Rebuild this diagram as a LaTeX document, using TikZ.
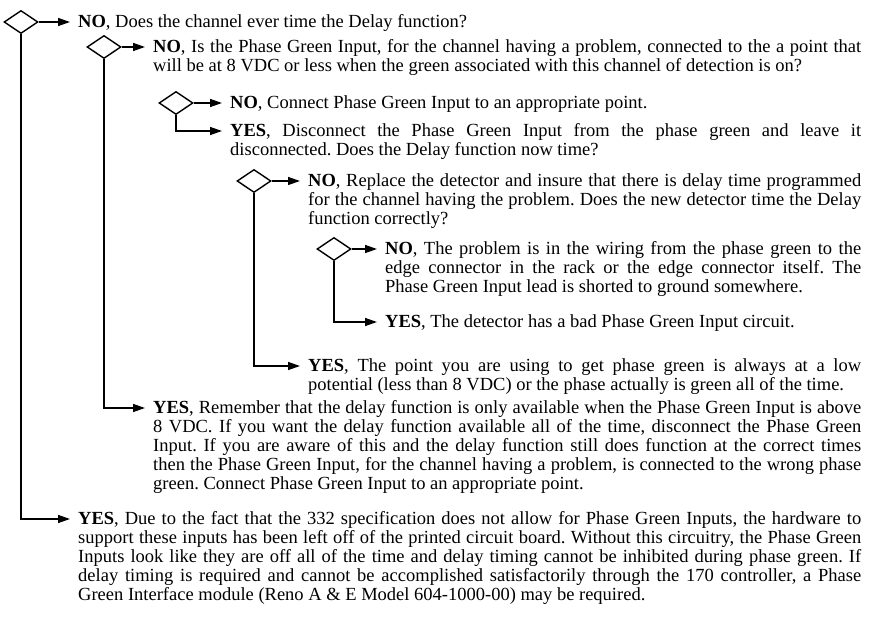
\documentclass[tikz,border=0pt]{standalone}
\usepackage{fontspec}
\setmainfont{Liberation Serif}
\usetikzlibrary{shapes.geometric,arrows.meta}

\newcommand{\replyfont}{\fontsize{18.5pt}{19pt}\selectfont\frenchspacing\hyphenpenalty=10000\tolerance=10000}

\tikzset{
    dec/.style={draw, diamond, line width=1.4pt, minimum width=34pt, minimum height=23pt, inner sep=0pt},
    reply/.style={anchor=base west, yshift=-5.5pt, inner sep=0pt, text width=#1, align=justify, font=\replyfont},
    arr/.style={line width=1.4pt, -{Triangle[length=12pt,width=8pt]}, shorten >=8pt}
}

\begin{document}
\begin{tikzpicture}[x=1pt,y=-1pt]
    \useasboundingbox (0,0) rectangle (873,617);

    % Define the decision diamonds
    \node[dec] (d0) at (21,22) {};
    \node[dec] (d1) at (104,47) {};
    \node[dec] (d2) at (176,103) {};
    \node[dec] (d3) at (254,181) {};
    \node[dec] (d4) at (334,249) {};

    % Answers of the outer question
    \node[reply=783pt] (no0) at (78,22) {\textbf{NO}, Does the channel ever time the Delay function?};
    \node[reply=783pt] (yes0) at (78,519) {\textbf{YES}, Due to the fact that the 332 specification does not allow for Phase Green Inputs, the hardware to\linebreak
        support these inputs has been left off of the printed circuit board. Without this circuitry, the Phase Green\linebreak
        Inputs look like they are off all of the time and delay timing cannot be inhibited during phase green. If\linebreak
        delay timing is required and cannot be accomplished satisfactorily through the 170 controller, a Phase\linebreak
        Green Interface module (Reno A \& E Model 604-1000-00) may be required.};

    % Answers of the second question
    \node[reply=708pt] (no1) at (153,47) {\textbf{NO}, Is the Phase Green Input, for the channel having a problem, connected to the a point that\linebreak
        will be at 8 VDC or less when the green associated with this channel of detection is on?};
    \node[reply=708pt] (yes1) at (153,408) {\textbf{YES}, Remember that the delay function is only available when the Phase Green Input is above\linebreak
        8 VDC. If you want the delay function available all of the time, disconnect the Phase Green\linebreak
        Input. If you are aware of this and the delay function still does function at the correct times\linebreak
        then the Phase Green Input, for the channel having a problem, is connected to the wrong phase\linebreak
        green. Connect Phase Green Input to an appropriate point.};

    % Answers of the third question
    \node[reply=631pt] (no2) at (230,103) {\textbf{NO}, Connect Phase Green Input to an appropriate point.};
    \node[reply=631pt] (yes2) at (230,131) {\textbf{YES}, Disconnect the Phase Green Input from the phase green and leave it\linebreak
        disconnected. Does the Delay function now time?};

    % Answers of the fourth question
    \node[reply=553pt] (no3) at (308,181) {\textbf{NO}, Replace the detector and insure that there is delay time programmed\linebreak
        for the channel having the problem. Does the new detector time the Delay\linebreak
        function correctly?};
    \node[reply=553pt] (yes3) at (308,366) {\textbf{YES}, The point you are using to get phase green is always at a low\linebreak
        potential (less than 8 VDC) or the phase actually is green all of the time.};

    % Answers of the fifth question
    \node[reply=476pt] (no4) at (385,249) {\textbf{NO}, The problem is in the wiring from the phase green to the\linebreak
        edge connector in the rack or the edge connector itself. The\linebreak
        Phase Green Input lead is shorted to ground somewhere.};
    \node[reply=476pt] (yes4) at (385,322) {\textbf{YES}, The detector has a bad Phase Green Input circuit.};

    % Draw the NO and YES arrows of every diamond
    \foreach \i in {0,1,2,3,4} {
        \draw[arr] (d\i.east) -- ([yshift=5.5pt]no\i.base west);
        \draw[arr] (d\i.south) |- ([yshift=5.5pt]yes\i.base west);
    }

\end{tikzpicture}
\end{document}
